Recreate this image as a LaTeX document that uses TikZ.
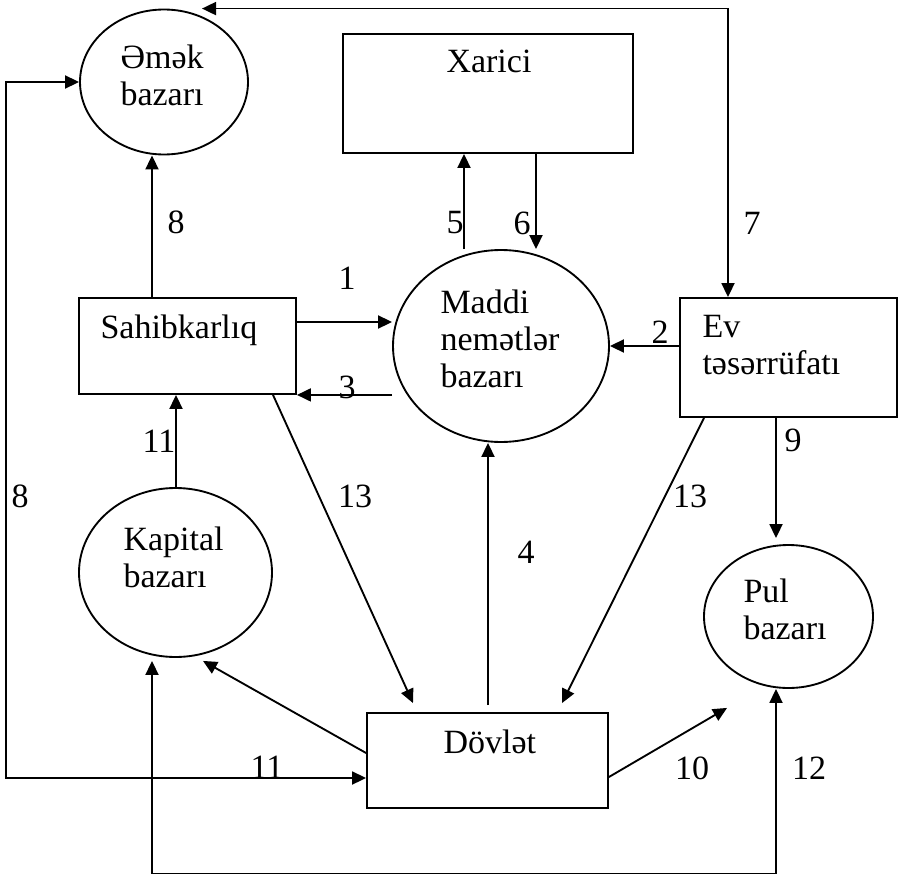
\documentclass[tikz,border=0pt]{standalone}
\usepackage{fontspec}
\setmainfont{Liberation Serif}
\usetikzlibrary{shapes.geometric,arrows.meta,calc}

\tikzset{every picture/.style={line width=0.75pt}}
\tikzset{
  box/.style={draw, rectangle, inner sep=0pt, line width=1.4pt},
  market/.style={draw, ellipse, inner sep=0pt, line width=1.4pt},
  txt/.style={anchor=base west, inner sep=0pt, align=left, font=\fontsize{25.5}{27.75}\selectfont},
  num/.style={inner sep=0pt, font=\fontsize{25.5}{27.75}\selectfont},
  flow/.style={line width=1.4pt, -{Triangle[length=10.5pt,width=9.75pt]}},
  flowtwo/.style={line width=1.4pt, {Triangle[length=10.5pt,width=9.75pt]}-{Triangle[length=10.5pt,width=9.75pt]}},
}

\begin{document}
\begin{tikzpicture}[x=0.75pt,y=0.75pt,yscale=-1,xscale=1]
    \useasboundingbox (0,0) rectangle (903,874);

    % Markets and sectors
    \node [market, minimum width=126pt, minimum height=108.75pt] (emek) at (164,82) {};
    \node [box, minimum width=217.5pt, minimum height=89.25pt] (xarici) at (488,93.5) {};
    \node [box, minimum width=162.75pt, minimum height=72pt] (sahib) at (187.5,346) {};
    \node [market, minimum width=162pt, minimum height=144pt] (maddi) at (501,346) {};
    \node [box, minimum width=162.75pt, minimum height=89.25pt] (ev) at (788.5,357.5) {};
    \node [market, minimum width=144.75pt, minimum height=126.75pt] (kapital) at (175.5,572.5) {};
    \node [market, minimum width=126.75pt, minimum height=107.25pt] (pul) at (788.5,616.5) {};
    \node [box, minimum width=180.75pt, minimum height=71.25pt] (dovlet) at (487.5,760.5) {};

    % Text Node (base = last line)
    \node [txt] (t_emek) at (120,105) {Əmək\\bazarı};
    \node [txt] (t_xarici) at (446,73) {Xarici};
    \node [txt] (t_sahib) at (100,338) {Sahibkarlıq};
    \node [txt] (t_maddi) at (440,387) {Maddi\\nemətlər\\bazarı};
    \node [txt] (t_ev) at (702,374) {Ev\\təsərrüfatı};
    \node [txt] (t_kapital) at (123,587) {Kapital\\bazarı};
    \node [txt] (t_pul) at (743,639) {Pul\\bazarı};
    \node [txt] (t_dovlet) at (443,753) {Dövlət};

    % Helper points
    \coordinate (p1) at ($(sahib.east)+(0,-24)$);
    \coordinate (x5) at ($(xarici.south)+(-24,0)$);
    \coordinate (x6) at ($(xarici.south)+(48,0)$);
    \coordinate (x8) at ($(sahib.north)+(-35.5,0)$);
    \coordinate (x9) at ($(ev.south)+(-12.5,0)$);
    \coordinate (x11) at ($(kapital.north)+(0.5,0)$);
    \coordinate (x4) at ($(dovlet.north)+(0.5,-7)$);

    % Flows
    \draw [flowtwo] ($(emek.north)+(38,0)$) -| ($(ev.north)+(-60.5,0)$);
    \draw [flow] (x8) -- (x8 |- emek.south);
    \draw [flowtwo] (emek.west) -- ++(-73,0) |- ($(dovlet.west)+(0,17.5)$);
    \draw [flow] (p1) -- (p1 -| maddi.west);
    \draw [flow] (sahib.south east -| maddi.west) -- (sahib.south east);
    \draw [flow] (maddi.east -| ev.west) -- (maddi.east);
    \draw [flow] (x5 |- maddi.north) -- (x5);
    \draw [flow] (x6) -- (x6 |- maddi.north);
    \draw [flow] (x9) -- ($(x9 |- pul.north)+(0,-6)$);
    \draw [flow] (x11) -- (x11 |- sahib.south);
    \draw [flow] ($(sahib.south)+(85.5,0)$) -- ($(dovlet.north)+(-74.5,-9)$);
    \draw [flow] ($(ev.south)+(-84.5,0)$) -- ($(dovlet.north)+(74.5,-9)$);
    \draw [flow] (x4) -- (x4 |- maddi.south);
    \draw [flow] ($(dovlet.west)+(0,-7.5)$) -- ($(kapital.south)+(27.5,3)$);
    \draw [flow] ($(dovlet.east)+(0,16.5)$) -- ($(pul.south)+(-61.5,19)$);
    \draw [flowtwo] ($(kapital.south)+(-23.5,3)$) -- ++(0,213) -| ($(pul.south)+(-12.5,0)$);

    % Flow numbers
    \node [num] (n1) at (347,278) {1};
    \node [num] (n2) at (660,332) {2};
    \node [num] (n3) at (347,387) {3};
    \node [num] (n4) at (526,552) {4};
    \node [num] (n5) at (455,223) {5};
    \node [num] (n6) at (522,223) {6};
    \node [num] (n7) at (752,223) {7};
    \node [num] (n8a) at (176,222) {8};
    \node [num] (n8b) at (20,496) {8};
    \node [num] (n9) at (793,440) {9};
    \node [num] (n10) at (692,768) {10};
    \node [num] (n11a) at (159,441) {11};
    \node [num] (n11b) at (267,767) {11};
    \node [num] (n12) at (809,768) {12};
    \node [num] (n13a) at (355,496) {13};
    \node [num] (n13b) at (690,496) {13};

\end{tikzpicture}
\end{document}
